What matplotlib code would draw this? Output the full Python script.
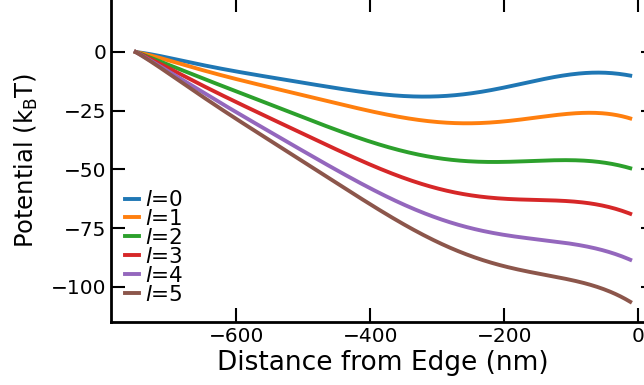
import numpy as np
import matplotlib
matplotlib.use("Agg")
import matplotlib.pyplot as plt

# distance from edge (nm)
x = [-750, -700, -650, -600, -550, -500, -450, -400, -350, -300,
     -250, -200, -150, -100, -60, -40, -12]

# potential (kBT) for each l
pot_l0 = [0, -2.7, -5.4, -8.2, -10.9, -13.3, -15.3, -17.2, -18.8, -19.2,
          -17.6, -15.0, -12.0, -9.7, -8.8, -8.9, -10.1]
pot_l1 = [0, -3.8, -7.6, -11.4, -15.3, -18.5, -21.7, -25.1, -28.0, -30.0,
          -30.4, -29.4, -27.9, -26.3, -25.9, -26.6, -28.3]
pot_l2 = [0, -5.6, -11.2, -16.8, -22.5, -27.9, -32.6, -38.5, -42.8, -45.0,
          -46.3, -46.8, -46.5, -46.3, -46.6, -47.6, -49.6]
pot_l3 = [0, -7.1, -14.2, -21.3, -28.4, -35.0, -41.3, -47.7, -54.3, -58.0,
          -61.0, -62.3, -63.1, -64.0, -64.8, -66.3, -69.0]
pot_l4 = [0, -8.5, -17.1, -25.6, -34.2, -42.3, -50.0, -57.8, -65.8, -70.6,
          -74.8, -77.8, -80.0, -82.0, -83.7, -85.5, -88.6]
pot_l5 = [0, -9.5, -18.9, -28.4, -37.8, -47.0, -55.5, -65.0, -73.5, -80.5,
          -87.5, -91.2, -94.0, -97.5, -100.0, -102.5, -106.4]

series = [pot_l0, pot_l1, pot_l2, pot_l3, pot_l4, pot_l5]
labels = ["$l$=0", "$l$=1", "$l$=2", "$l$=3", "$l$=4", "$l$=5"]

fig = plt.figure(figsize=(6.44, 3.85), dpi=100)
ax = fig.add_axes([0.1724, 0.1639, 0.8446, 0.8413])

xs = np.linspace(x[0], x[-1], 300)
for y, lab in zip(series, labels):
    # smooth curve through the read-off points
    coef = np.polyfit(x, y, 7)
    ax.plot(xs, np.polyval(coef, xs), lw=2.8, label=lab)

ax.set_ylim(-115, 23)
ax.set_xticks([-600, -400, -200, 0])
ax.set_yticks([0, -25, -50, -75, -100])
ax.tick_params(direction="in", top=True, right=True, length=10, width=1.5,
               labelsize=14.5)
for s in ax.spines.values():
    s.set_linewidth(2)

ax.set_xlabel("Distance from Edge (nm)", fontsize=19, labelpad=3)
ax.set_ylabel(r"Potential (k$_\mathrm{B}$T)", fontsize=17.5, labelpad=8)

ax.legend(loc="lower left", frameon=False, fontsize=15.5, handlelength=0.65,
          handletextpad=0.3, labelspacing=-0.05, borderaxespad=0.35,
          borderpad=0.3, bbox_to_anchor=(0.0, 0.01))

fig.savefig("out.png", dpi=100)
